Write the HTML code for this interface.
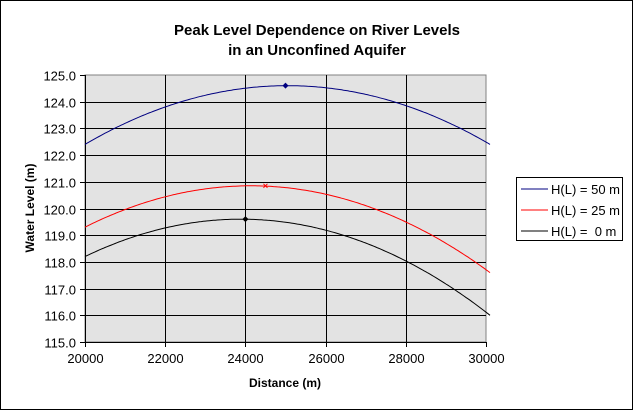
<!DOCTYPE html>
<html><head><style>
body{margin:0;background:#fff;}
svg{display:block;font-family:"Liberation Sans",Arial,sans-serif;}
</style></head><body>
<svg id="s" width="635" height="413" viewBox="0 0 635 413" xmlns="http://www.w3.org/2000/svg">
<rect x="0" y="0" width="635" height="413" fill="#fff"/>
<rect x="0.5" y="0.5" width="632" height="409" fill="none" stroke="#000"/>
<text x="317" y="35" font-size="15" font-weight="bold" text-anchor="middle">Peak Level Dependence on River Levels</text>
<text x="317" y="55" font-size="15" font-weight="bold" text-anchor="middle">in an Unconfined Aquifer</text>
<rect x="85" y="75" width="401" height="267" fill="#e3e3e3" stroke="#808080"/>
<g id="grid" stroke="#000" stroke-width="1"></g>
<g id="lab" font-size="13" fill="#000"></g>
<text x="285" y="387" font-size="12" font-weight="bold" text-anchor="middle">Distance (m)</text>
<text transform="translate(34,208) rotate(-90)" font-size="12" font-weight="bold" text-anchor="middle">Water Level (m)</text>
<g id="curves" fill="none" stroke-width="1"></g>
<rect x="516.5" y="177.5" width="106" height="63" fill="#fff" stroke="#000"/>
<line x1="521" y1="189" x2="548" y2="189" stroke="#000080"/>
<line x1="521" y1="210" x2="548" y2="210" stroke="#f00"/>
<line x1="521" y1="231" x2="548" y2="231" stroke="#000"/>
<text x="551" y="194" font-size="13">H(L) = 50 m</text>
<text x="551" y="215" font-size="13">H(L) = 25 m</text>
<text x="551" y="236" font-size="13" xml:space="preserve">H(L) =  0 m</text>
</svg>
<script>
var NS="http://www.w3.org/2000/svg";
function X(v){return 85+(v-20000)*401/10000;}
function Y(v){return 342-(v-115)*26.7;}
function el(t,a,p){var e=document.createElementNS(NS,t);for(var k in a)e.setAttribute(k,a[k]);document.getElementById(p).appendChild(e);return e;}
for(var i=0;i<=10;i++){var y=Math.round(Y(115+i))+0.5;
 if(i>0&&i<10)el("line",{x1:85,y1:y,x2:486,y2:y},"grid");
 el("line",{x1:80,y1:y,x2:85,y2:y},"grid");
 var t=el("text",{x:76,y:y+5,"text-anchor":"end"},"lab");t.textContent=(115+i).toFixed(1);}
for(var j=0;j<=5;j++){var x=Math.round(X(20000+2000*j))+0.5;
 if(j>0&&j<5)el("line",{x1:x,y1:75,x2:x,y2:342},"grid");
 el("line",{x1:x,y1:342,x2:x,y2:347},"grid");
 var t=el("text",{x:x,y:363,"text-anchor":"middle"},"lab");t.textContent=20000+2000*j;}
el("line",{x1:85.5,y1:75,x2:85.5,y2:342},"grid");
el("line",{x1:85,y1:342.5,x2:486,y2:342.5},"grid");
function curve(pk,x0,cl,cr,col){var pts=[];for(var x=20000;x<=30120;x+=50){var c=x<x0?cl:cr;var h=Math.sqrt(pk*pk-c*(x-x0)*(x-x0));pts.push(X(x).toFixed(1)+","+Y(h).toFixed(1));}
 el("polyline",{points:pts.join(" "),stroke:col},"curves");}
curve(124.6,25050,543/(5050*5050),543/(5050*5050),"#000080");
curve(120.85,24135,372/(4135*4135),775/(5965*5965),"#f00");
curve(119.6,23885,333/(3885*3885),848/(6215*6215),"#000");
el("polygon",{points:[X(25000),Y(124.6)-3,X(25000)+3,Y(124.6),X(25000),Y(124.6)+3,X(25000)-3,Y(124.6)].join(","),fill:"#000080",stroke:"none"},"curves");
el("polygon",{points:[X(24000),Y(119.6)-3,X(24000)+3,Y(119.6),X(24000),Y(119.6)+3,X(24000)-3,Y(119.6)].join(","),fill:"#000",stroke:"none"},"curves");
var mx=X(24500),my=Y(120.85);
el("path",{d:"M"+(mx-2)+","+(my-2)+"L"+(mx+2)+","+(my+2)+"M"+(mx+2)+","+(my-2)+"L"+(mx-2)+","+(my+2),stroke:"#f00"},"curves");
</script>
</body></html>
